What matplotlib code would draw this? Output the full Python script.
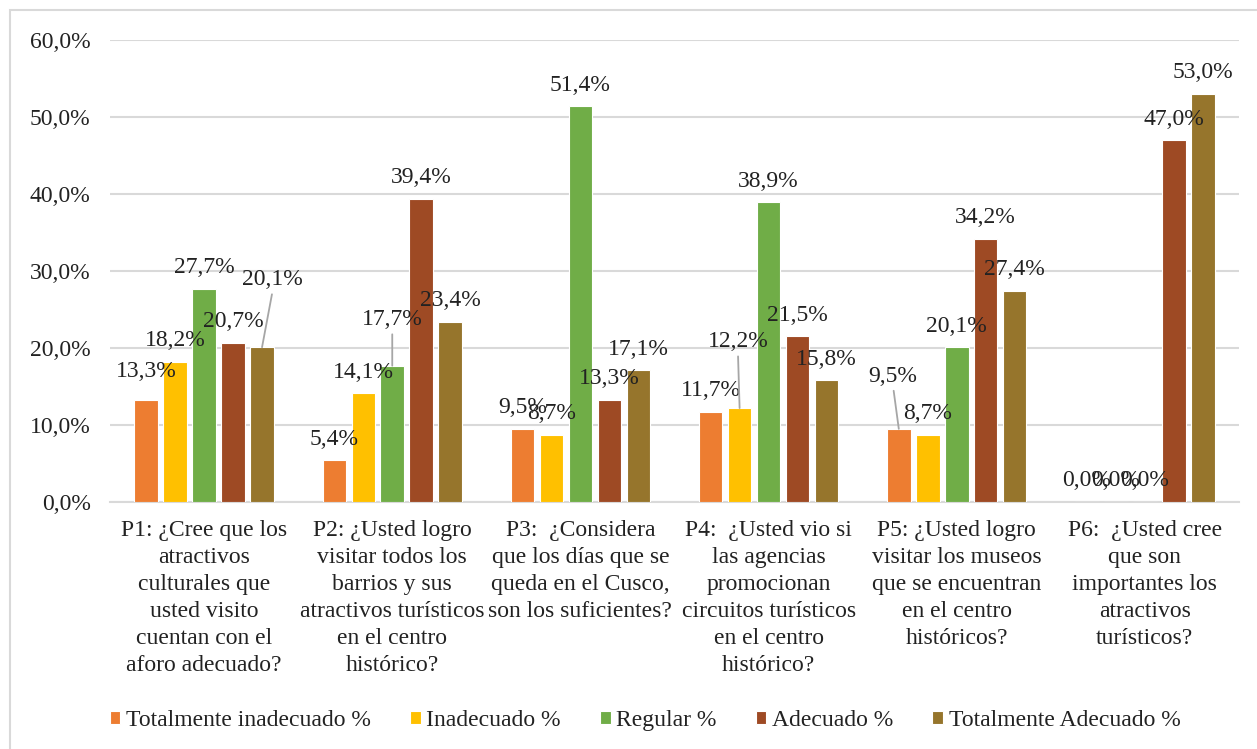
import matplotlib.pyplot as plt
import matplotlib.patches as pc
import numpy as np

plt.rcParams['font.family'] = ['Liberation Serif', 'DejaVu Serif']

preguntas = [
    "P1: ¿Cree que los\natractivos\nculturales que\nusted visito\ncuentan con el\naforo adecuado?",
    "P2: ¿Usted logro\nvisitar todos los\nbarrios y sus\natractivos turísticos\nen el centro\nhistórico?",
    "P3:  ¿Considera\nque los días que se\nqueda en el Cusco,\nson los suficientes?",
    "P4:  ¿Usted vio si\nlas agencias\npromocionan\ncircuitos turísticos\nen el centro\nhistórico?",
    "P5: ¿Usted logro\nvisitar los museos\nque se encuentran\nen el centro\nhistóricos?",
    "P6:  ¿Usted cree\nque son\nimportantes los\natractivos\nturísticos?",
]
series = ["Totalmente inadecuado %", "Inadecuado %", "Regular %",
          "Adecuado %", "Totalmente Adecuado %"]
tot_inadecuado = [13.3, 5.4, 9.5, 11.7, 9.5, 0.0]
inadecuado = [18.2, 14.1, 8.7, 12.2, 8.7, 0.0]
regular = [27.7, 17.7, 51.4, 38.9, 20.1, 0.0]
adecuado = [20.7, 39.4, 13.3, 21.5, 34.2, 47.0]
tot_adecuado = [20.1, 23.4, 17.1, 15.8, 27.4, 53.0]
valores = [tot_inadecuado, inadecuado, regular, adecuado, tot_adecuado]
colores = ['#ED7D31', '#FFC000', '#70AD47', '#9E4A24', '#96752C']

# etiquetas desplazadas (serie, pregunta): (dx, dy, linea guia)
desplazadas = {
    (0, 0): (0, 16, False),
    (4, 0): (7.7, 44.7, True),
    (2, 1): (0, 29.2, True),
    (1, 3): (-1.2, 43.8, True),
    (0, 4): (-4.1, 34, True),
}

texto = '#222222'
fig = plt.figure(figsize=(12.57, 7.49), dpi=100)
ax = fig.add_axes([110 / 1257, 1 - 502 / 749, 1129 / 1257, 462 / 749])

# marco exterior
fig.patches.append(pc.Rectangle((10 / 1257, -0.01), 1.0, 1 - 10 / 749 + 0.01,
                                transform=fig.transFigure, fill=False,
                                edgecolor='#D9D9D9', lw=1.5))

x = np.arange(len(preguntas))
paso = 0.154
for j, (vals, col, nom) in enumerate(zip(valores, colores, series)):
    xs = x + (j - 2) * paso
    ax.bar(xs, vals, width=0.125, color=col, edgecolor='white', lw=0.8,
           label=nom, zorder=3)
    for i, v in enumerate(vals):
        dx, dy, guia = desplazadas.get((j, i), (0, 11.2, False))
        props = None
        if guia:
            props = dict(arrowstyle='-', color='#A6A6A6', lw=1.3,
                         relpos=(0.5, 0), shrinkA=1, shrinkB=0)
        ax.annotate(f"{v:.1f}%".replace('.', ','), (xs[i], v),
                    xytext=(dx, dy), textcoords='offset points',
                    ha='center', va='baseline', fontsize=17, color=texto,
                    arrowprops=props, zorder=4)

ax.set_xlim(-0.5, 5.5)
ax.set_ylim(0, 60)
ax.set_yticks(range(0, 61, 10))
ax.set_yticklabels([f"{t},0%" for t in range(0, 61, 10)], fontsize=17,
                   color=texto)
ax.set_xticks(x)
ax.set_xticklabels(preguntas, fontsize=17, color=texto, linespacing=1.37)
ax.tick_params(axis='both', length=0)
ax.tick_params(axis='y', pad=14)
ax.tick_params(axis='x', pad=13)
ax.grid(axis='y', color='#D9D9D9', lw=1.5, zorder=0)
for s in ['top', 'right', 'left']:
    ax.spines[s].set_visible(False)
ax.spines['bottom'].set_color('#D9D9D9')
ax.spines['bottom'].set_linewidth(1.5)

ax.legend(loc='center', bbox_to_anchor=(0.474, -0.473),
          bbox_transform=ax.transAxes, ncol=5, frameon=False, fontsize=17,
          handlelength=0.45, handleheight=0.45, handletextpad=0.25,
          columnspacing=1.65, labelcolor=texto)

fig.savefig('out.png', dpi=100)
